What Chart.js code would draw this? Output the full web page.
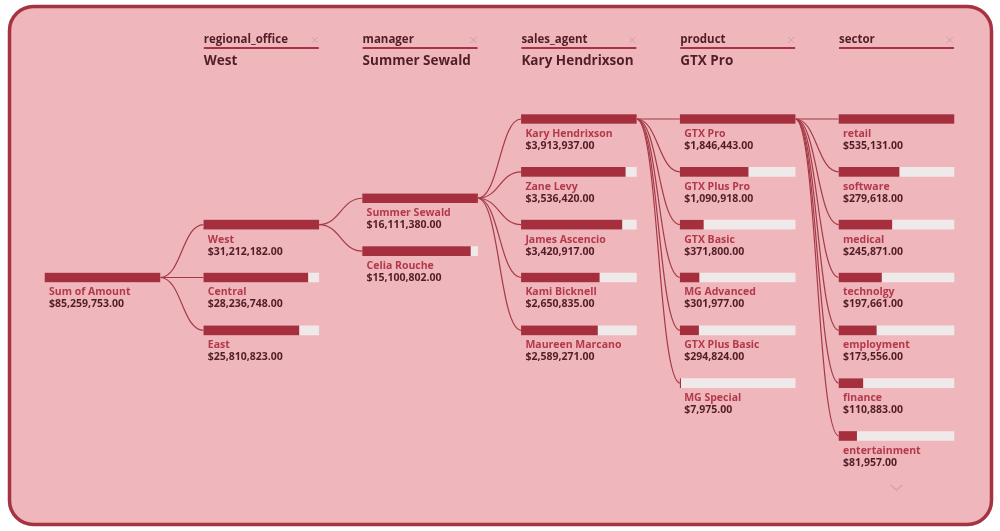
<!DOCTYPE html>
<html><head><meta charset="utf-8">
<script src="https://cdn.jsdelivr.net/npm/chart.js@4.4.1/dist/chart.umd.min.js"></script>
<style>html,body{margin:0;padding:0;background:#fff;}canvas{display:block}</style>
</head><body><canvas id="c" width="1000" height="531"></canvas>
<script>
// ---- data ----
const levelNames = ['regional_office', 'manager', 'sales_agent', 'product', 'sector'];
const selectedNames = ['West', 'Summer Sewald', 'Kary Hendrixson', 'GTX Pro', ''];
const rootLabels = ['Sum of Amount'];
const rootValues = [85259753];
const offices = ['West', 'Central', 'East'];
const officeValues = [31212182, 28236748, 25810823];
const managers = ['Summer Sewald', 'Celia Rouche'];
const managerValues = [16111380, 15100802];
const agents = ['Kary Hendrixson', 'Zane Levy', 'James Ascencio', 'Kami Bicknell', 'Maureen Marcano'];
const agentValues = [3913937, 3536420, 3420917, 2650835, 2589271];
const products = ['GTX Pro', 'GTX Plus Pro', 'GTX Basic', 'MG Advanced', 'GTX Plus Basic', 'MG Special'];
const productValues = [1846443, 1090918, 371800, 301977, 294824, 7975];
const sectors = ['retail', 'software', 'medical', 'technolgy', 'employment', 'finance', 'entertainment'];
const sectorValues = [535131, 279618, 245871, 197661, 173556, 110883, 81957];

// ---- layout / style ----
const ROOT_ROW = 3;
const W = 0.724;            // track length in column units
const C = {
  panel: '#efb6bb', border: '#a53341', bar: '#a52f3d', track: '#efe9e9',
  link: '#a53a47', name: '#b3394a', value: '#521e26', head: '#521e26', x: '#c9a4a8'
};
const FONT = '"Open Sans", "Segoe UI", sans-serif';

const columns = [
  { labels: rootLabels, values: rootValues, sel: 0 },
  { labels: offices, values: officeValues, sel: offices.indexOf(selectedNames[0]) },
  { labels: managers, values: managerValues, sel: managers.indexOf(selectedNames[1]) },
  { labels: agents, values: agentValues, sel: agents.indexOf(selectedNames[2]) },
  { labels: products, values: productValues, sel: products.indexOf(selectedNames[3]) },
  { labels: sectors, values: sectorValues, sel: -1 }
];
// rows: children centred on the selected parent, clamped at top
columns.forEach((col, c) => {
  if (c === 0) { col.rows = [ROOT_ROW]; return; }
  const p = columns[c - 1];
  const pr = p.rows[p.sel];
  const start = Math.max(0, pr - (col.labels.length - 1) / 2);
  col.rows = col.labels.map((_, i) => start + i);
});

const trackData = [], fillData = [];
columns.forEach((col, c) => {
  const mx = Math.max(...col.values);
  col.values.forEach((v, i) => {
    trackData.push({ x: [c, c + W], y: col.rows[i] });
    fillData.push({ x: [c, c + W * v / mx], y: col.rows[i] });
  });
});

const fmt = v => '$' + v.toLocaleString('en-US', { minimumFractionDigits: 2, maximumFractionDigits: 2 });

const treePlugin = {
  id: 'tree',
  beforeDraw(chart) {
    const ctx = chart.ctx;
    ctx.save();
    ctx.fillStyle = '#ffffff';
    ctx.fillRect(0, 0, chart.width, chart.height);
    ctx.beginPath();
    ctx.roundRect(9.5, 6.5, 982, 518, 24);
    ctx.fillStyle = C.panel;
    ctx.fill();
    ctx.lineWidth = 3.5;
    ctx.strokeStyle = C.border;
    ctx.stroke();
    // links
    const xs = chart.scales.x, ys = chart.scales.y;
    ctx.strokeStyle = C.link;
    ctx.lineWidth = 1.2;
    for (let c = 1; c < columns.length; c++) {
      const p = columns[c - 1];
      const x0 = xs.getPixelForValue(c - 1 + W), y0 = ys.getPixelForValue(p.rows[p.sel]);
      const x1 = xs.getPixelForValue(c);
      const xm = (x0 + x1) / 2;
      columns[c].rows.forEach(r => {
        const y1 = ys.getPixelForValue(r);
        ctx.beginPath();
        ctx.moveTo(x0, y0);
        ctx.bezierCurveTo(xm, y0, xm, y1, x1, y1);
        ctx.stroke();
      });
    }
    ctx.restore();
  },
  afterDatasetsDraw(chart) {
    const ctx = chart.ctx;
    const xs = chart.scales.x, ys = chart.scales.y;
    ctx.save();
    ctx.textBaseline = 'middle';
    ctx.textAlign = 'left';
    columns.forEach((col, c) => {
      const x = xs.getPixelForValue(c) + 4;
      col.labels.forEach((lab, i) => {
        const y = ys.getPixelForValue(col.rows[i]);
        ctx.font = 'bold 10.5px ' + FONT;
        ctx.fillStyle = C.name;
        ctx.fillText(lab, x, y + 15);
        ctx.fillStyle = C.value;
        ctx.fillText(fmt(col.values[i]), x, y + 27);
      });
    });
    // headers
    levelNames.forEach((name, k) => {
      const x0 = xs.getPixelForValue(k + 1), x1 = xs.getPixelForValue(k + 1 + W);
      ctx.font = 'bold 11.5px ' + FONT;
      ctx.fillStyle = C.head;
      ctx.fillText(name, x0, 40);
      ctx.fillStyle = C.border;
      ctx.fillRect(x0, 47, x1 - x0, 2);
      ctx.strokeStyle = C.x;
      ctx.lineWidth = 1;
      ctx.beginPath();
      ctx.moveTo(x1 - 7, 37); ctx.lineTo(x1 - 1, 43);
      ctx.moveTo(x1 - 1, 37); ctx.lineTo(x1 - 7, 43);
      ctx.stroke();
      if (selectedNames[k]) {
        ctx.font = 'bold 13.5px ' + FONT;
        ctx.fillStyle = C.head;
        ctx.fillText(selectedNames[k], x0, 61);
      }
    });
    // scroll chevron
    const cx = xs.getPixelForValue(5 + W / 2);
    ctx.strokeStyle = C.x; ctx.lineWidth = 1.2;
    ctx.beginPath();
    ctx.moveTo(cx - 6, 485); ctx.lineTo(cx, 490); ctx.lineTo(cx + 6, 485);
    ctx.stroke();
    ctx.restore();
  }
};

new Chart(document.getElementById('c'), {
  type: 'bar',
  data: {
    datasets: [
      { data: fillData, backgroundColor: C.bar, order: 1 },
      { data: trackData, backgroundColor: C.track, order: 2 }
    ]
  },
  options: {
    indexAxis: 'y',
    responsive: false, animation: false, devicePixelRatio: 1,
    layout: { padding: 0 },
    datasets: { bar: { grouped: false, barThickness: 9, borderWidth: 0, borderSkipped: false } },
    plugins: { legend: { display: false }, tooltip: { enabled: false } },
    scales: {
      x: { type: 'linear', min: -0.2834, max: 6.0139, display: false },
      y: { type: 'linear', min: -2.2525, max: 7.7986, reverse: true, offset: false, display: false }
    }
  },
  plugins: [treePlugin]
});
</script>
</body></html>
